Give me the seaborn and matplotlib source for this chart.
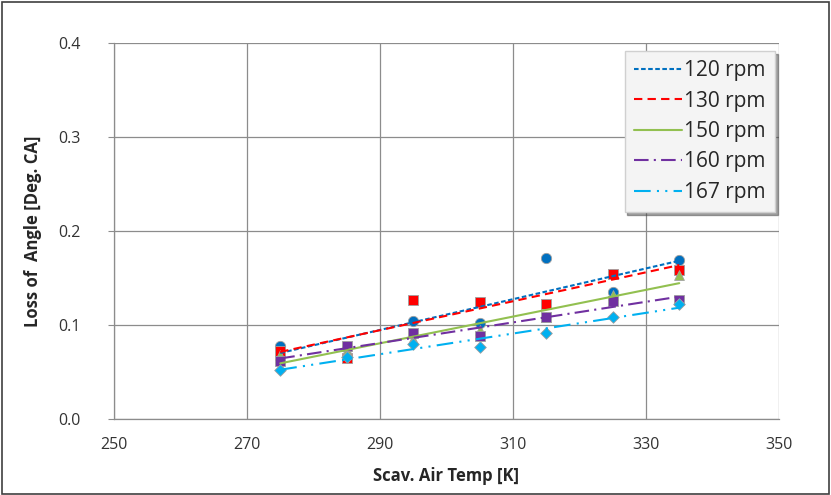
import numpy as np
import pandas as pd
import matplotlib
matplotlib.use("Agg")
import matplotlib.pyplot as plt
import seaborn as sns

temps = [275, 285, 295, 305, 315, 325, 335]
rpm_labels = ["120 rpm", "130 rpm", "150 rpm", "160 rpm", "167 rpm"]
loss_120 = [0.078, 0.076, 0.104, 0.102, 0.171, 0.135, 0.169]
loss_130 = [0.072, 0.065, 0.127, 0.125, 0.122, 0.154, 0.158]
loss_150 = [0.068, 0.072, 0.085, 0.095, 0.108, 0.132, 0.153]
loss_160 = [0.062, 0.078, 0.092, 0.088, 0.108, 0.126, 0.127]
loss_167 = [0.052, 0.066, 0.080, 0.077, 0.092, 0.109, 0.122]

series = [loss_120, loss_130, loss_150, loss_160, loss_167]
colors = ["#0070C0", "#FF0000", "#92C050", "#7030A0", "#00B0F0"]
markers = ["o", "s", "^", "s", "D"]
msizes = [55, 50, 50, 50, 35]
dashes = [(0, (2.2, 1.2)), (0, (4, 2.5)), "-", (0, (7, 2.5, 1, 2.5)), (0, (8, 3, 1, 3, 1, 3))]

rows = []
for lab, vals in zip(rpm_labels, series):
    for t, v in zip(temps, vals):
        rows.append({"temp": t, "loss": v, "rpm": lab})
df = pd.DataFrame(rows)

sns.set_style("white")
plt.rcParams['font.family'] = ['Open Sans', 'DejaVu Sans']

fig = plt.figure(figsize=(8.31, 4.95), dpi=100)
ax = fig.add_axes([114/831, 1 - 419/495, (779-114)/831, (419-43)/495])

for lab, c, m, ms, ls in zip(rpm_labels, colors, markers, msizes, dashes):
    sub = df[df.rpm == lab]
    sns.scatterplot(data=sub, x="temp", y="loss", ax=ax, color=c, marker=m, s=ms,
                    edgecolor="#a0a0a0", linewidth=0.6, legend=False, zorder=3)
handles = []
for lab, c, m, ms, ls in zip(rpm_labels, colors, markers, msizes, dashes):
    sub = df[df.rpm == lab]
    sns.regplot(data=sub, x="temp", y="loss", ax=ax, scatter=False, ci=None, color=c,
                line_kws={"linestyle": ls, "linewidth": 1.5, "zorder": 4})
    ln = ax.lines[-1]
    ln.set_label(lab)
    handles.append(ln)

ax.set_xlim(250, 350)
ax.set_ylim(0, 0.4)
ax.set_xticks([250, 270, 290, 310, 330, 350])
ax.set_yticks([0.0, 0.1, 0.2, 0.3, 0.4])
ax.set_yticklabels(["0.0", "0.1", "0.2", "0.3", "0.4"])
ax.grid(True, color="#8c8c8c", linewidth=0.9)
ax.set_axisbelow(True)
for s in ["top", "right"]:
    ax.spines[s].set_visible(False)
for s in ["left", "bottom"]:
    ax.spines[s].set_color("#8c8c8c")
    ax.spines[s].set_linewidth(0.9)
ax.tick_params(axis="both", labelsize=11.5, colors="#333333", length=4, direction="out",
               left=True, bottom=False)
ax.tick_params(axis="y", color="#8c8c8c", pad=20)
ax.tick_params(axis="x", pad=9)
ax.set_xlabel("Scav. Air Temp [K]", fontsize=12, fontweight="bold", labelpad=10)
ax.set_ylabel("Loss of  Angle [Deg. CA]", fontsize=12, fontweight="bold", labelpad=12)

leg = ax.legend(handles=handles, labels=rpm_labels, loc="upper right",
                bbox_to_anchor=(1.0, 0.99), fontsize=15, frameon=True,
                fancybox=False, shadow=True, handlelength=2.3, handletextpad=0.1,
                labelspacing=0.45, borderpad=0.45, borderaxespad=0.2)
leg.get_frame().set_facecolor("#f4f4f4")
leg.get_frame().set_edgecolor("#d0d0d0")

fig.patches.append(plt.Rectangle((0.002, 0.003), 0.995, 0.993, transform=fig.transFigure,
                                 fill=False, edgecolor="#404040", linewidth=1.2))
fig.savefig("out.png", dpi=100)
